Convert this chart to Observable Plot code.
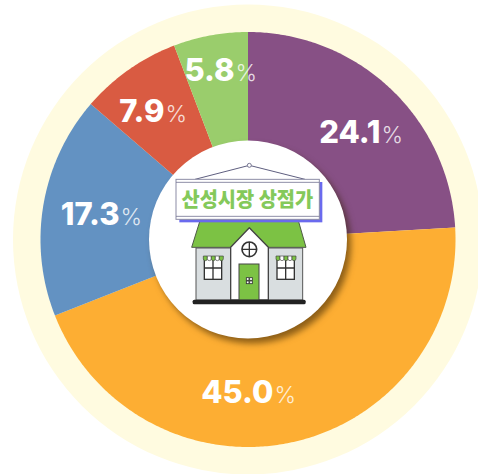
<!DOCTYPE html>
<html><head><meta charset="utf-8">
<style>html,body{margin:0;padding:0;background:#fff;overflow:hidden}svg{display:block}</style>
<script src="https://cdn.jsdelivr.net/npm/d3@7"></script>
<script src="https://cdn.jsdelivr.net/npm/@observablehq/plot@0.6"></script>
</head><body><div id="chart"></div>
<script>
const labels = ["24.1","45.0","17.3","7.9","5.8"];
const values = [24.1,45.0,17.3,7.9,5.8];
const colors = ["#875085","#fdae33","#6392c2","#d95b42","#9acd6c"];
// label junction between number and % sign, in the chart's plane
const labelX = [380,273,119,164,234];
const labelY = [142.5,402,224,121,80];

const cx = 247.5, cy = 239, R = 207.5, Rinner = 99, Rback = 235;
const total = d3.sum(values);
let acc = 0;
const sliceRows = [];
values.forEach((v,i)=>{
  const a0 = acc/total*2*Math.PI; acc += v;
  const a1 = acc/total*2*Math.PI;
  const n = Math.ceil((a1-a0)/0.01);
  sliceRows.push({k:labels[i],x:cx,y:cy});
  for(let j=0;j<=n;j++){
    const a = a0+(a1-a0)*j/n;
    sliceRows.push({k:labels[i],x:cx+R*Math.sin(a),y:cy-R*Math.cos(a)});
  }
});
const labelRows = labels.map((t,i)=>({t,x:labelX[i],y:labelY[i]}));

const house = `
<path d="M165 148L328 106L495 148" fill="none" stroke="#5f5f80" stroke-width="3"/>
<circle cx="328" cy="106" r="6" fill="#fff" stroke="#5f5f80" stroke-width="2.5"/>
<path d="M180 272L155 352H498L475 272Z" fill="#7cc244" stroke="#4e5a48" stroke-width="3" stroke-linejoin="round"/>
<rect x="168" y="354" width="320" height="156" fill="#d9dee0" stroke="#555" stroke-width="3"/>
<path d="M272 352L328 293L385 352V510H272Z" fill="#fff" stroke="#444" stroke-width="4" stroke-linejoin="round"/>
<circle cx="328" cy="358" r="22" fill="#fff" stroke="#333" stroke-width="5"/>
<path d="M328 336V380M306 358H350" stroke="#333" stroke-width="4"/>
<rect x="297" y="402" width="60" height="108" fill="#7cc244" stroke="#444" stroke-width="3"/>
<g fill="#fff" stroke="#333" stroke-width="2.5"><rect x="319" y="443" width="8" height="8"/><rect x="329" y="443" width="8" height="8"/><rect x="319" y="453" width="8" height="8"/><rect x="329" y="453" width="8" height="8"/></g>
${[190,408].map(x=>`
<rect x="${x+3}" y="384" width="52" height="64" fill="#fff" stroke="#333" stroke-width="4"/>
<path d="M${x+29} 384V448M${x+3} 414H${x+55}" stroke="#333" stroke-width="4"/>
${[0,1,2,3,4].map(k=>`<path d="M${x+k*12} 378h12v8a6 6 0 0 1-12 0Z" fill="${k%2?'#fff':'#7cc244'}" stroke="#444" stroke-width="2"/>`).join("")}`).join("")}
<rect x="158" y="509" width="339" height="14" rx="5" fill="#222"/>
<rect x="118" y="156" width="429" height="121" fill="#6a6aee"/>
<rect x="108" y="148" width="430" height="120" fill="#fff" stroke="#8c8ca6" stroke-width="3"/>
<path d="M108 157H538M108 259H538" fill="none" stroke="#777795" stroke-width="2.5"/>
<text x="322" y="230" text-anchor="middle" font-family="'Noto Sans CJK KR'" font-weight="900" font-size="62" textLength="395" lengthAdjust="spacingAndGlyphs" fill="#84c95a">산성시장 상점가</text>`;

function houseMark(index, scales){
  const g = document.createElementNS("http://www.w3.org/2000/svg","g");
  g.setAttribute("transform",`translate(${scales.x(140)},${scales.y(130)}) scale(${1/3})`);
  g.innerHTML = house;
  return g;
}

const chart = Plot.plot({
  width:478,height:474,margin:0,
  style:{background:"#fff",overflow:"hidden"},
  x:{domain:[0,478],range:[0,478],axis:null},
  y:{domain:[0,474],range:[0,474],axis:null},
  color:{type:"ordinal",domain:labels,range:colors},
  marks:[
    Plot.dot([{x:cx,y:cy}],{x:"x",y:"y",r:Rback,fill:"#fffbe0",stroke:"none"}),
    Plot.line(sliceRows,{x:"x",y:"y",z:"k",fill:"k",stroke:"none",curve:"linear"}),
    Plot.dot([{x:cx,y:cy}],{x:"x",y:"y",r:Rinner,fill:"#fff",stroke:"none",imageFilter:"drop-shadow(4px 5px 3px rgba(50,30,0,.55))"}),
    houseMark,
    Plot.text(labelRows,{x:"x",y:"y",text:"t",textAnchor:"end",lineAnchor:"bottom",dy:0,fill:"#fff",fontFamily:"Inter",fontWeight:800,fontSize:31,style:"letter-spacing:-2.6px"}),
    Plot.text(labelRows,{x:"x",y:"y",text:()=>"%",textAnchor:"start",lineAnchor:"bottom",dx:1,dy:0,fill:"#fff",fillOpacity:.8,fontFamily:"Inter",fontWeight:300,fontSize:23})
  ]
});
document.getElementById("chart").append(chart);
</script></body></html>
